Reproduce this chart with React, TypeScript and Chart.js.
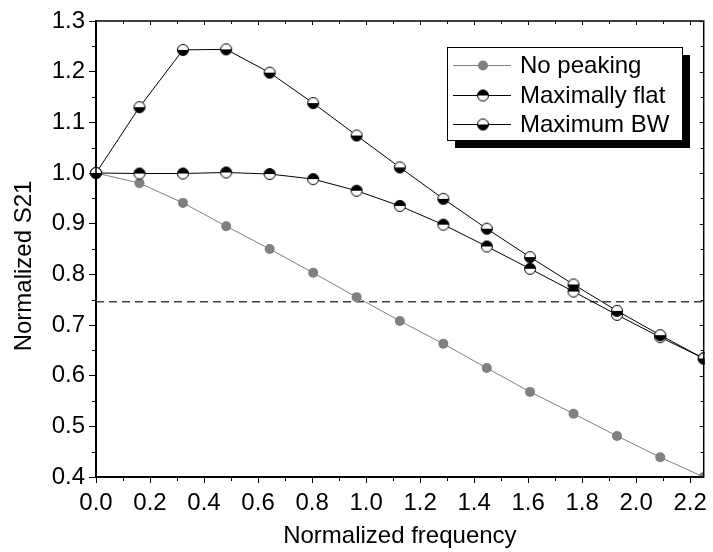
import React, { useEffect, useRef } from "react";
import { Chart, registerables } from "chart.js";

Chart.register(...registerables);

const FONT = "'Liberation Sans', Arial, Helvetica, sans-serif";

// ---- data ----
const freq = [0, 0.161, 0.322, 0.482, 0.643, 0.804, 0.965, 1.125, 1.286, 1.447, 1.607, 1.768, 1.929, 2.089, 2.25];
const noPeaking = [1.0, 0.98, 0.941, 0.895, 0.85, 0.803, 0.755, 0.708, 0.663, 0.615, 0.568, 0.525, 0.481, 0.439, 0.4];
const maxFlat = [1.0, 0.999, 0.999, 1.001, 0.998, 0.988, 0.965, 0.935, 0.898, 0.855, 0.811, 0.766, 0.72, 0.676, 0.634];
const maxBW = [1.0, 1.13, 1.243, 1.244, 1.198, 1.138, 1.074, 1.011, 0.949, 0.89, 0.834, 0.78, 0.728, 0.68, 0.634];
const thresholdX = [0, 2.25];
const thresholdY = [0.746, 0.746];
const seriesNames = ["No peaking", "Maximally flat", "Maximum BW"];
const xTitle = "Normalized frequency";
const yTitle = "Normalized S21";
const xRange = [0, 2.25];
const yRange = [0.4, 1.3];

function halfMarker(topBlack: boolean, r = 5.5): HTMLCanvasElement {
  const s = 14;
  const c = document.createElement("canvas");
  c.width = s;
  c.height = s;
  const ctx = c.getContext("2d")!;
  const cx = s / 2, cy = s / 2;
  ctx.beginPath();
  ctx.arc(cx, cy, r, 0, Math.PI * 2);
  ctx.fillStyle = "#fff";
  ctx.fill();
  ctx.beginPath();
  if (topBlack) ctx.arc(cx, cy, r, Math.PI, Math.PI * 2);
  else ctx.arc(cx, cy, r, 0, Math.PI);
  ctx.closePath();
  ctx.fillStyle = "#000";
  ctx.fill();
  ctx.beginPath();
  ctx.arc(cx, cy, r, 0, Math.PI * 2);
  ctx.lineWidth = 1;
  ctx.strokeStyle = "#000";
  ctx.stroke();
  return c;
}

export default function App() {
  const ref = useRef<HTMLCanvasElement | null>(null);

  useEffect(() => {
    const canvas = ref.current;
    if (!canvas) return;
    const flatMarker = halfMarker(true);
    const bwMarker = halfMarker(false);
    const gray = "#808080";

    const toXY = (ys: number[]) => ys.map((y, i) => ({ x: freq[i], y }));

    const decor = {
      id: "decor",
      afterDraw(chart: any) {
        const { ctx, chartArea } = chart;
        const { left, right, top, bottom } = chartArea;
        const xs = chart.scales.x;
        const ys = chart.scales.y;
        ctx.save();
        ctx.strokeStyle = "#000";
        // frame
        ctx.lineWidth = 1.5;
        ctx.strokeRect(left, top, right - left, bottom - top);
        ctx.lineWidth = 1;
        // x minor ticks (outside bottom) and inside top ticks
        const xt = xs.ticks.map((t: any) => t.value);
        const xAll: number[] = [];
        xt.forEach((v: number) => { xAll.push(v); xAll.push(v + 0.1); });
        xAll.forEach((v: number, i: number) => {
          if (v > xRange[1] + 1e-9) return;
          const px = Math.round(xs.getPixelForValue(v)) + 0.5;
          const minor = i % 2 === 1;
          ctx.beginPath();
          if (minor) {
            ctx.moveTo(px, bottom);
            ctx.lineTo(px, bottom + 4);
          }
          ctx.moveTo(px, top);
          ctx.lineTo(px, top + (minor ? 3 : 4));
          ctx.stroke();
        });
        const yt = ys.ticks.map((t: any) => t.value);
        const yAll: number[] = [];
        yt.forEach((v: number) => { yAll.push(v); yAll.push(v + 0.05); });
        yAll.forEach((v: number, i: number) => {
          if (v > yRange[1] + 1e-9) return;
          const py = Math.round(ys.getPixelForValue(v)) + 0.5;
          const minor = i % 2 === 1;
          ctx.beginPath();
          if (minor) {
            ctx.moveTo(left, py);
            ctx.lineTo(left - 4, py);
          }
          ctx.moveTo(right, py);
          ctx.lineTo(right - (minor ? 3 : 4), py);
          ctx.stroke();
        });
        // y title
        ctx.save();
        ctx.translate(24, 266);
        ctx.rotate(-Math.PI / 2);
        ctx.font = `24px ${FONT}`;
        ctx.fillStyle = "#000";
        ctx.textAlign = "center";
        ctx.textBaseline = "middle";
        ctx.fillText(yTitle, 0, 0);
        ctx.restore();

        // legend
        const bx = 447, by = 47, bw = 235, bh = 93;
        ctx.fillStyle = "#000";
        ctx.fillRect(bx + 8, by + 8, bw, bh);
        ctx.fillStyle = "#fff";
        ctx.fillRect(bx, by, bw, bh);
        ctx.lineWidth = 1;
        ctx.strokeStyle = "#000";
        ctx.strokeRect(bx + 0.5, by + 0.5, bw, bh);
        const rowsY = [65, 95, 124];
        const colors = [gray, "#000", "#000"];
        seriesNames.forEach((name, i) => {
          const ry = rowsY[i];
          ctx.strokeStyle = colors[i];
          ctx.lineWidth = 1;
          ctx.beginPath();
          ctx.moveTo(453, ry + 0.5);
          ctx.lineTo(511, ry + 0.5);
          ctx.stroke();
          if (i === 0) {
            ctx.beginPath();
            ctx.arc(483, ry + 0.5, 5, 0, Math.PI * 2);
            ctx.fillStyle = gray;
            ctx.fill();
          } else {
            const m = i === 1 ? flatMarker : bwMarker;
            ctx.drawImage(m, 483 - m.width / 2, ry + 0.5 - m.height / 2);
          }
          ctx.fillStyle = "#000";
          ctx.font = `24px ${FONT}`;
          ctx.textAlign = "left";
          ctx.textBaseline = "middle";
          ctx.fillText(name, 520, ry + 1);
        });
        ctx.restore();
      },
    };

    const chart = new Chart(canvas, {
      type: "line",
      data: {
        datasets: [
          {
            label: "threshold",
            data: thresholdX.map((x, i) => ({ x, y: thresholdY[i] })),
            borderColor: "#404040",
            borderWidth: 1.5,
            borderDash: [8, 5],
            pointRadius: 0,
            order: 4,
          },
          {
            label: seriesNames[0],
            data: toXY(noPeaking),
            borderColor: gray,
            borderWidth: 1,
            backgroundColor: gray,
            pointBackgroundColor: gray,
            pointBorderColor: gray,
            pointRadius: 5,
            pointBorderWidth: 0,
            order: 3,
            clip: { left: 8, top: 8, right: 0, bottom: 0 },
          },
          {
            label: seriesNames[1],
            data: toXY(maxFlat),
            borderColor: "#000",
            borderWidth: 1,
            pointStyle: flatMarker,
            order: 2,
            clip: { left: 8, top: 8, right: 1, bottom: 0 },
          },
          {
            label: seriesNames[2],
            data: toXY(maxBW),
            borderColor: "#000",
            borderWidth: 1,
            pointStyle: bwMarker,
            order: 1,
            clip: { left: 8, top: 8, right: 1, bottom: 0 },
          },
        ] as any,
      },
      options: {
        responsive: false,
        animation: false,
        devicePixelRatio: 1,
        layout: { padding: { top: 21, right: 5, left: 0, bottom: 0 } },
        plugins: {
          legend: { display: false },
          tooltip: { enabled: false },
        },
        elements: { line: { tension: 0 } },
        scales: {
          x: {
            type: "linear",
            min: xRange[0],
            max: xRange[1],
            afterFit: (s: any) => { s.height = 75; },
            ticks: {
              stepSize: 0.2,
              includeBounds: false,
              color: "#000",
              padding: 6,
              maxRotation: 0,
              font: { family: FONT, size: 24 },
              callback: (v: any) => Number(v).toFixed(1),
            },
            grid: { drawOnChartArea: false, tickLength: 6, color: "#000", lineWidth: 1 },
            border: { color: "#000", width: 2 },
            title: {
              display: true,
              text: xTitle,
              color: "#000",
              font: { family: FONT, size: 24 },
              padding: { top: 0, bottom: 1 },
            },
          },
          y: {
            type: "linear",
            min: yRange[0],
            max: yRange[1],
            afterFit: (s: any) => { s.width = 96; },
            ticks: {
              stepSize: 0.1,
              color: "#000",
              padding: 4,
              font: { family: FONT, size: 24 },
              callback: (v: any) => Number(v).toFixed(1),
            },
            grid: { drawOnChartArea: false, tickLength: 7, color: "#000", lineWidth: 1 },
            border: { color: "#000", width: 2 },
          },
        },
      } as any,
      plugins: [decor],
    });
    return () => chart.destroy();
  }, []);

  return (
    <div style={{ position: "absolute", left: 0, top: 0, width: 713, height: 552, background: "#fff" }}>
      <canvas ref={ref} width={713} height={552} style={{ display: "block" }} />
    </div>
  );
}
